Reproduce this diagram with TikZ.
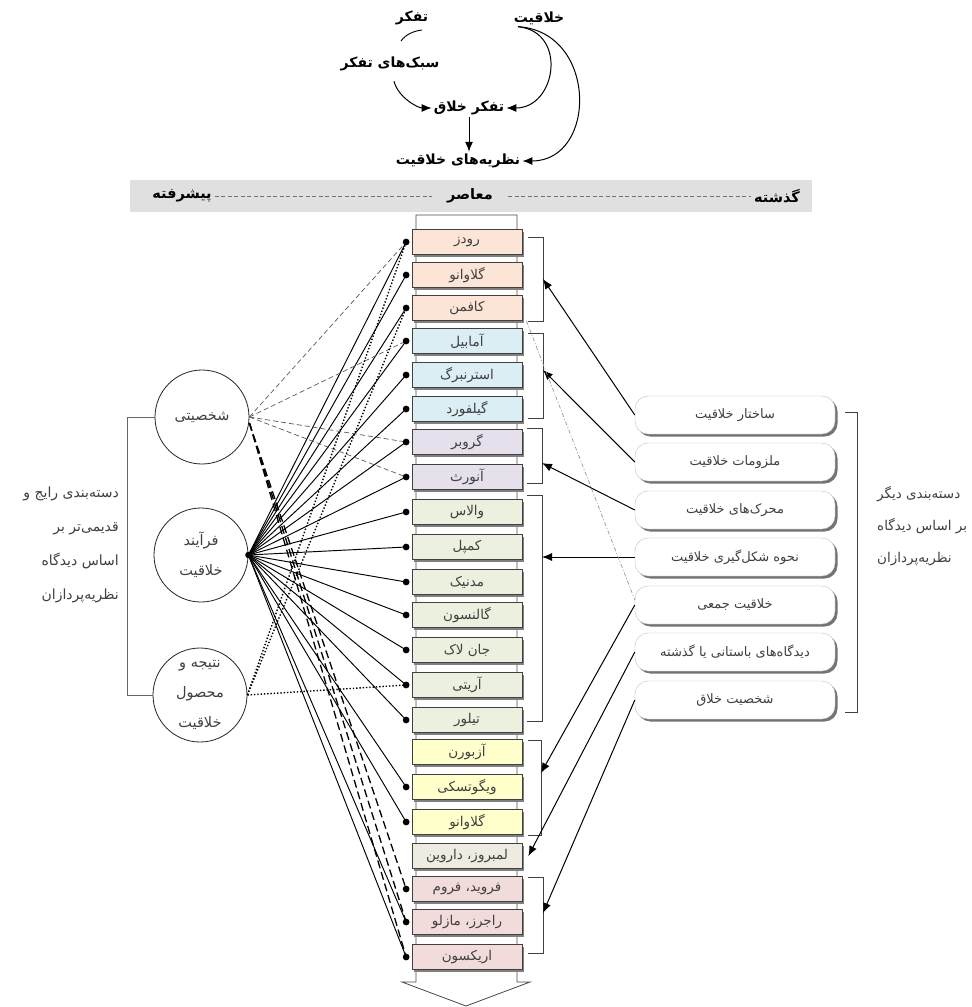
\documentclass[tikz,border=0pt]{standalone}
\usepackage{fontspec}
\newfontfamily\arabicfont[Script=Arabic]{DejaVu Sans}
\TeXXeTstate=1
\usetikzlibrary{arrows.meta,shadows,calc}
\definecolor{cpeach}{RGB}{252,228,214}
\definecolor{cblue}{RGB}{218,238,243}
\definecolor{cpurp}{RGB}{229,224,236}
\definecolor{cgreen}{RGB}{235,241,222}
\definecolor{cyell}{RGB}{255,255,204}
\definecolor{cbeige}{RGB}{238,236,225}
\definecolor{cpink}{RGB}{242,220,219}
\definecolor{bandgray}{RGB}{224,224,224}
\begin{document}
\begin{tikzpicture}[x=1pt,y=-1pt,
  toptext/.style={font=\arabicfont\bfseries\fontsize{14}{16}\selectfont, inner sep=2pt},
  bandtext/.style={font=\arabicfont\bfseries\fontsize{14.5}{16}\selectfont, inner sep=3pt},
  colbox/.style={draw=black!75, line width=0.7pt, minimum width=110pt, minimum height=25pt, inner sep=0pt, text=black!75, font=\arabicfont\fontsize{13.5}{15}\selectfont, drop shadow={shadow xshift=2pt, shadow yshift=-2pt, fill=black!50, opacity=1}},
  rbox/.style={draw=black!25, fill=white, rounded corners=13pt, minimum width=200pt, minimum height=38pt, inner sep=0pt, text=black!75, font=\arabicfont\fontsize{13}{15}\selectfont, drop shadow={shadow xshift=2.5pt, shadow yshift=-2.5pt, fill=black!55, opacity=1}},
  circ/.style={draw=black!85, line width=0.8pt, circle, minimum size=94pt, inner sep=0pt, align=center, text=black!75, font=\arabicfont\fontsize{14.5}{30}\selectfont},
  arr/.style={-{Latex[length=10pt,width=8pt]}, line width=1pt},
  link/.style={line width=0.95pt},
  pdash/.style={line width=0.7pt, black!65, dash pattern=on 5pt off 3pt},
  tdash/.style={line width=1.3pt, dash pattern=on 8pt off 4pt},
  pdot/.style={line width=1.4pt, dash pattern=on 1.4pt off 1.9pt},
  bracket/.style={black!75, line width=0.9pt},
  sidetext/.style={text=black!75, inner sep=0pt}
]
\fill[white] (0,0) rectangle (972,1007);
\useasboundingbox (0,0) rectangle (972,1007);

% ---- top part ----
\node[toptext] (taf) at (412,18) {\beginR تفکر\endR};
\node[toptext] (khal) at (539,18) {\beginR خلاقیت\endR};
\node[toptext] (sabk) at (390,64) {\beginR سبک^^^^200cهای تفکر\endR};
\node[toptext] (tk) at (469,108) {\beginR تفکر خلاق\endR};
\node[toptext] (naz) at (458,161) {\beginR نظریه^^^^200cهای خلاقیت\endR};
\draw[line width=0.9pt] (401,41) .. controls (406,34) and (414,31) .. (422,30);
\draw[arr] ([xshift=4pt,yshift=-8pt]sabk.south) .. controls +(4,16) and +(-14,0) .. (tk.west);
\draw[arr] ([xshift=-21pt]khal.south) .. controls +(50,5) and +(50,0) .. (tk.east);
\draw[arr] ([xshift=-21pt]khal.south) .. controls +(80,5) and +(75,0) .. (naz.east);
\draw[arr] (tk.south) -- (tk.south |- naz.north);

% ---- band ----
\node[fill=bandgray, minimum width=682pt, minimum height=32pt, inner sep=0pt] (band) at (471,196) {};
\node[bandtext] (past) at (777,196) {\beginR گذشته\endR};
\node[bandtext] (cont) at (470,196) {\beginR معاصر\endR};
\node[bandtext] (adv) at (182,196) {\beginR پیشرفته\endR};
\draw[black!55, line width=0.7pt, dash pattern=on 4pt off 2.5pt] (adv.east) -- ([xshift=-12pt]cont.west);
\draw[black!55, line width=0.7pt, dash pattern=on 4pt off 2.5pt] ([xshift=12pt]cont.east) -- (past.west);

% ---- column ----
\draw[black!70, line width=0.8pt, fill=white] (416,215) -- (416,982) -- (402,982) -- (466,1006) -- (530,982) -- (517,982) -- (517,215) -- cycle;

\foreach \i/\y/\col/\lbl in {
1/242/cpeach/رودز, 2/275/cpeach/گلاوانو, 3/308/cpeach/کافمن,
4/341/cblue/آمابیل, 5/375/cblue/استرنبرگ, 6/409/cblue/گیلفورد,
7/442/cpurp/گروبر, 8/477/cpurp/آنورث,
9/512/cgreen/والاس, 10/547/cgreen/کمپل, 11/582/cgreen/مدنیک, 12/615/cgreen/گالنسون, 13/650/cgreen/جان لاک, 14/685/cgreen/آریتی, 15/720/cgreen/تیلور,
16/752/cyell/آزبورن, 17/787/cyell/ویگوتسکی, 18/822/cyell/گلاوانو,
19/856/cbeige/لمبروز، داروین,
20/889/cpink/فروید، فروم, 21/922/cpink/راجرز، مازلو, 22/957/cpink/اریکسون}
{
  \node[colbox, fill=\col] (c\i) at (467,\y) {\beginR\lbl\endR};
  \coordinate (d\i) at ([xshift=-5.5pt]c\i.west);
}

% group brackets
\draw[bracket] (528,237) -- (543,237) -- (543,321) -- (528,321);
\draw[bracket] (528,333) -- (543,333) -- (543,418) -- (528,418);
\draw[bracket] (527,428) -- (542,428) -- (542,483) -- (527,483);
\draw[bracket] (527,495) -- (542,495) -- (542,721) -- (527,721);
\draw[bracket] (528,740) -- (541,740) -- (541,835) -- (528,835);
\draw[bracket] (528,877) -- (543,877) -- (543,953) -- (528,953);

% ---- right boxes ----
\foreach \i/\y/\lbl in {1/415/ساختار خلاقیت, 2/462/ملزومات خلاقیت, 3/510/محرک^^^^200cهای خلاقیت, 4/557/نحوه شکل^^^^200cگیری خلاقیت, 5/605/خلاقیت جمعی, 6/652/دیدگاه^^^^200cهای باستانی یا گذشته, 7/700/شخصیت خلاق}
{
  \node[rbox] (r\i) at (735,\y) {\beginR\lbl\endR};
}
\draw[bracket] (845,412) -- (857,412) -- (857,712) -- (845,712);
\node[sidetext, anchor=north west, align=left, font=\arabicfont\fontsize{13.5}{32}\selectfont] (rt) at (877,486)
  {\beginR دسته^^^^200cبندی دیگر\endR\\ \beginR بر اساس دیدگاه\endR\\ \beginR نظریه^^^^200cپردازان\endR};

\coordinate (b1) at (543,279);
\coordinate (b2) at (543,370);
\coordinate (b3) at (542,463);
\coordinate (b4) at (542,557);
\coordinate (b5) at (541,773);
\coordinate (b6) at ([xshift=6pt]c19.east);
\coordinate (b7) at (543,913);
\foreach \i in {1,...,7} \draw[arr] (r\i.west) -- (b\i);
\draw[black!40, line width=0.7pt, dash pattern=on 4pt off 2pt on 1pt off 2pt] ([xshift=4pt]c3.south east) -- ([yshift=5pt]r5.west);

% ---- circles ----
\node[circ] (S) at (202,417) {\beginR شخصیتی\endR};
\node[circ] (F) at (201,555) {\beginR فرآیند\endR\\ \beginR خلاقیت\endR};
\node[circ] (N) at (200,695) {\beginR نتیجه و\endR\\ \beginR محصول\endR\\ \beginR خلاقیت\endR};
\draw[black!60, line width=0.9pt] (S.west) -- (127,417) -- (127,695) -- (N.west);
\node[sidetext, anchor=north east, align=right, font=\arabicfont\fontsize{14}{34}\selectfont] (lt) at (119,487)
  {\beginR دسته^^^^200cبندی رایج و\endR\\ \beginR قدیمی^^^^200cتر بر\endR\\ \beginR اساس دیدگاه\endR\\ \beginR نظریه^^^^200cپردازان\endR};

% ---- links ----
\foreach \i in {1,2,3,4,5,6,7,8,9,10,11,12,13,14,15,17,18,21,22} \draw[link] (F.east) -- (d\i);
\foreach \i in {1,4,7,8} \draw[pdash] (S.east) -- (d\i);
\foreach \i in {20,21,22} \draw[tdash] ([yshift=-6pt]S.east) -- (d\i);
\foreach \i in {1,3,14} \draw[pdot] (N.east) -- (d\i);
\foreach \i in {1,2,3,4,5,6,7,8,9,10,11,12,13,14,15,17,18,20,21,22} \fill (d\i) circle (3.4pt);
\fill (F.east) circle (3.2pt);
\end{tikzpicture}
\end{document}
